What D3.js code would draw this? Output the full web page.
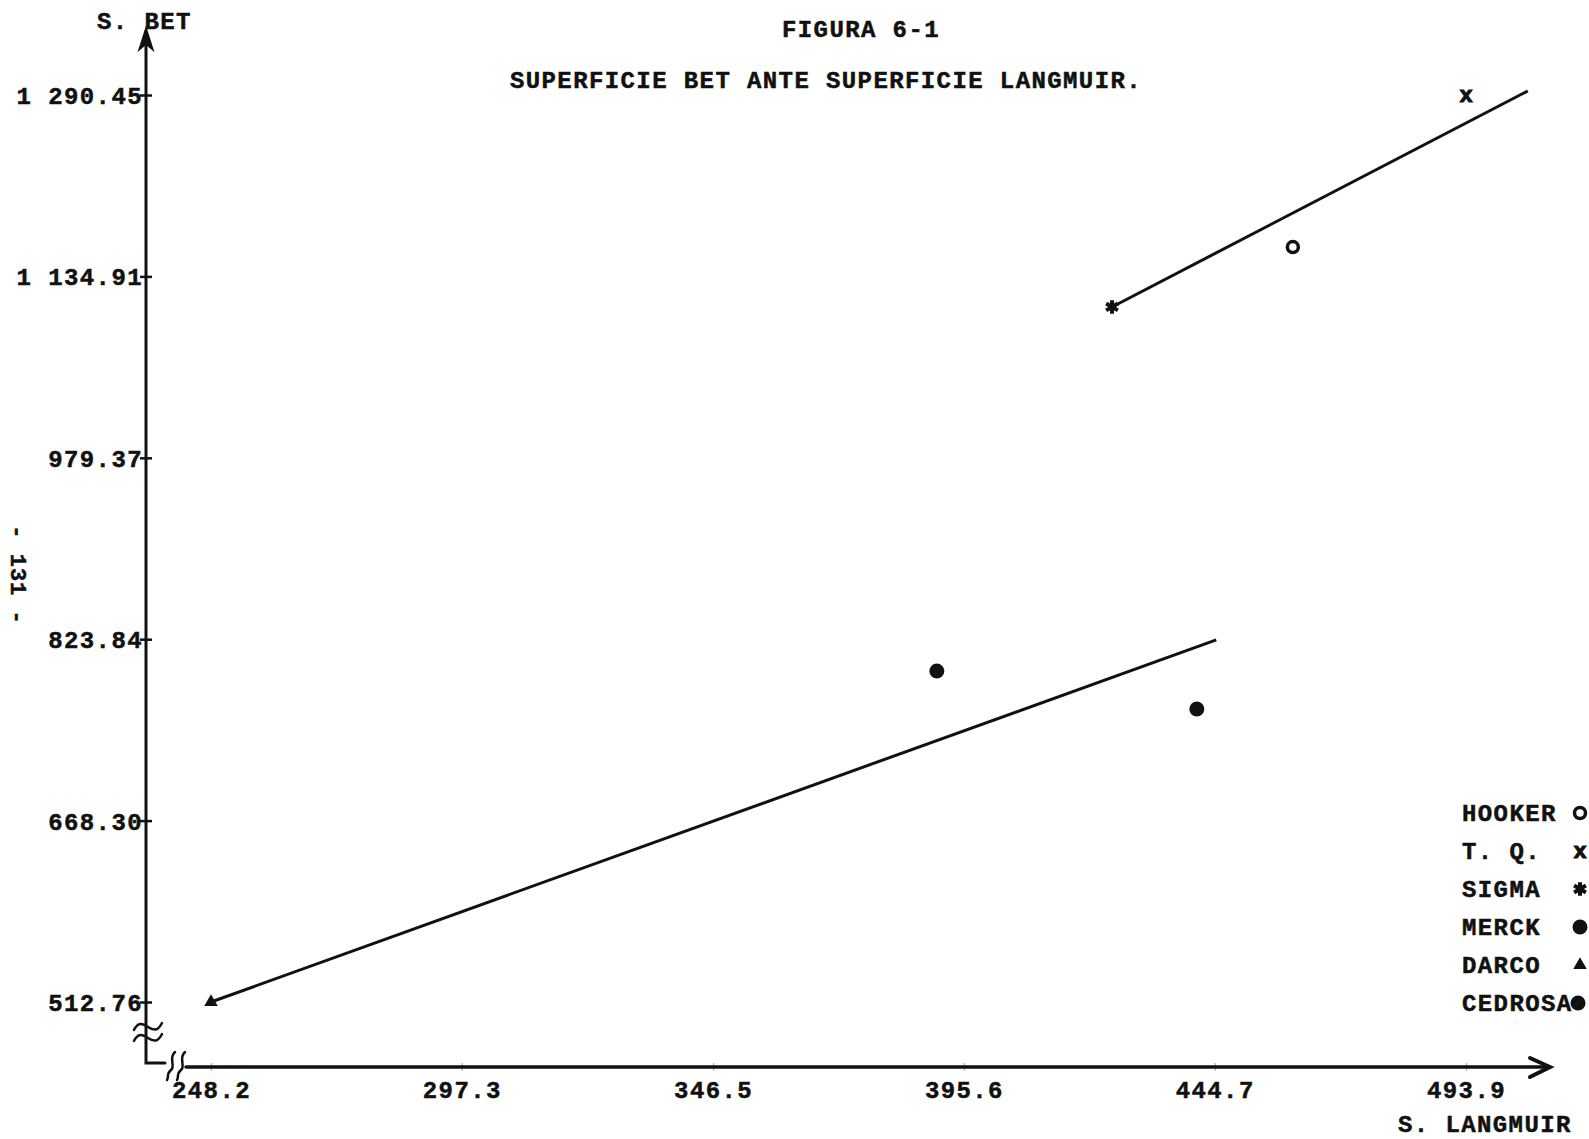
<!DOCTYPE html>
<html>
<head>
<meta charset="utf-8">
<script src="https://cdn.jsdelivr.net/npm/d3@7"></script>
<style>
  body { margin: 0; background: #fff; }
  svg text { font-family: "Liberation Mono", "DejaVu Sans Mono", monospace; font-weight: bold; fill: #111; stroke: #111; stroke-width: 0.5px; }
</style>
</head>
<body>
<div id="container"></div>
<script>
// data
var samples   = ["HOOKER", "T. Q.", "SIGMA", "MERCK", "DARCO", "CEDROSA"];
var sLangmuir = [460.0, 493.9, 424.6, 390.3, 248.2, 441.2];
var sBet      = [1160.1, 1290.45, 1108.7, 796.6, 512.76, 764.0];

// the two fitted lines (end points)
var fitLow  = [[248.2, 512.76], [445.0, 823.2]];
var fitHigh = [[424.6, 1108.7], [506.0, 1293.9]];

var xTicks = [248.2, 297.3, 346.5, 395.6, 444.7, 493.9];
var xTickLabels = ["248.2", "297.3", "346.5", "395.6", "444.7", "493.9"];
var yTicks = [512.76, 668.30, 823.84, 979.37, 1134.91, 1290.45];
var yTickLabels = ["512.76", "668.30", "823.84", "979.37", "1 134.91", "1 290.45"];

width = 1589;
height = 1139;
axisX = 146;
axisY = 1067;

var svg = d3.select("#container").append("svg")
    .attr("width", width)
    .attr("height", height);

var x = d3.scaleLinear().domain([248.2, 493.9]).range([211, 1466]);
var y = d3.scaleLinear().domain([512.76, 1290.45]).range([1002, 95]);

var ink = "#111";
var fontSize = 24, spacing = 1.4;

function txt(s, px, py, anchor) {
    return svg.append("text").text(s)
        .attr("x", px).attr("y", py)
        .attr("font-size", fontSize)
        .attr("letter-spacing", spacing)
        .attr("text-anchor", anchor || "start");
}

// titles
txt("FIGURA 6-1", 861, 37, "middle");
txt("SUPERFICIE BET ANTE SUPERFICIE LANGMUIR.", 826, 88, "middle");
txt("S. BET", 97, 29);
txt("S. LANGMUIR", 1398, 1132);
svg.append("text").text("- 131 -")
    .attr("font-size", 22).attr("letter-spacing", 1)
    .attr("text-anchor", "middle")
    .attr("transform", "translate(11,575) rotate(90)");

// y axis
var yAxis = d3.axisLeft(y).tickValues(yTicks).tickSize(12)
    .tickFormat(function(d, i) { return yTickLabels[i]; });
var gy = svg.append("g").attr("transform", "translate(" + axisX + ",0)").call(yAxis);
gy.select(".domain").remove();
gy.selectAll(".tick line").attr("x1", 6).attr("x2", -6).attr("stroke", ink).attr("stroke-width", 2.5);
gy.selectAll(".tick text")
    .attr("x", -3).attr("dy", "0.35em")
    .attr("font-size", fontSize).attr("letter-spacing", spacing)
    .style("font-family", null);

// x axis
var xAxis = d3.axisBottom(x).tickValues(xTicks).tickSize(8)
    .tickFormat(function(d, i) { return xTickLabels[i]; });
var gx = svg.append("g").attr("transform", "translate(0," + axisY + ")").call(xAxis);
gx.select(".domain").remove();
gx.selectAll(".tick line").attr("y1", -4).attr("y2", 4).attr("stroke", "#bbb").attr("stroke-width", 1.5);
gx.selectAll(".tick text")
    .attr("y", 31).attr("dy", 0)
    .attr("font-size", fontSize).attr("letter-spacing", spacing)
    .style("font-family", null);

// axis lines, arrows and breaks
var axes = svg.append("g").attr("fill", "none").attr("stroke", ink).attr("stroke-linecap", "round");
axes.append("path").attr("stroke-width", 3)
    .attr("d", "M" + axisX + ",36 V1063 H165");
axes.append("path").attr("stroke-width", 3.5)
    .attr("d", "M186," + axisY + " H1548");
axes.append("path").attr("fill", ink).attr("stroke-width", 1.5)
    .attr("d", "M" + axisX + ",28 L" + (axisX - 7) + ",50 L" + axisX + ",44 L" + (axisX + 7) + ",50 Z");
axes.append("path").attr("stroke-width", 4)
    .attr("d", "M1530,1058 L1550," + axisY + " L1530,1077");
// squiggles on the y axis
[1027, 1038].forEach(function(yy) {
    axes.append("path").attr("stroke-width", 2.5)
        .attr("d", "M134," + (yy + 3) + " C138," + (yy - 5) + " 142," + (yy - 4) + " 148," + yy +
                   " S158," + (yy + 4) + " 162," + (yy - 4));
});
// squiggles on the x axis
[171, 181].forEach(function(xx) {
    axes.append("path").attr("stroke-width", 2.5)
        .attr("d", "M" + (xx + 4) + ",1052 C" + (xx - 3) + ",1058 " + (xx + 5) + ",1066 " + xx + ",1070" +
                   " S" + (xx - 2) + ",1078 " + (xx - 4) + ",1080");
});

// fitted lines
var line = d3.line().x(function(d) { return x(d[0]); }).y(function(d) { return y(d[1]); });
svg.append("g").selectAll("path")
    .data([fitLow, fitHigh])
    .enter().append("path")
    .attr("d", line)
    .attr("fill", "none")
    .attr("stroke", ink)
    .attr("stroke-width", 3);

// marker per sample
function drawMarker(g, name) {
    if (name === "HOOKER") {
        g.append("circle").attr("r", 5.5).attr("fill", "none").attr("stroke", ink).attr("stroke-width", 3.5);
    } else if (name === "T. Q.") {
        g.append("text").text("x").attr("text-anchor", "middle").attr("dy", "0.3em")
            .attr("font-size", 22).style("stroke-width", "1.2px");
    } else if (name === "SIGMA") {
        g.append("path").attr("d", d3.symbol(d3.symbolAsterisk).size(130)())
            .attr("stroke", ink).attr("stroke-width", 4);
    } else if (name === "DARCO") {
        g.append("path").attr("d", d3.symbol(d3.symbolTriangle).size(80)()).attr("fill", ink);
    } else {
        g.append("circle").attr("r", 7.5).attr("fill", ink);
    }
}

var pts = samples.map(function(s, i) { return {name: s, lx: sLangmuir[i], by: sBet[i]}; });
svg.append("g").selectAll("g")
    .data(pts)
    .enter().append("g")
    .attr("transform", function(d) { return "translate(" + x(d.lx) + "," + y(d.by) + ")"; })
    .each(function(d) { drawMarker(d3.select(this), d.name); });

// legend
var leg = svg.append("g").attr("transform", "translate(1462,813)");
samples.forEach(function(s, i) {
    var row = leg.append("g").attr("transform", "translate(0," + (i * 38) + ")");
    row.append("text").text(s)
        .attr("font-size", fontSize).attr("letter-spacing", spacing)
        .attr("dy", "0.35em");
    var m = row.append("g").attr("transform", "translate(" + (s === "CEDROSA" ? 116 : 118) + ",0)");
    drawMarker(m, s);
});
</script>
</body>
</html>
